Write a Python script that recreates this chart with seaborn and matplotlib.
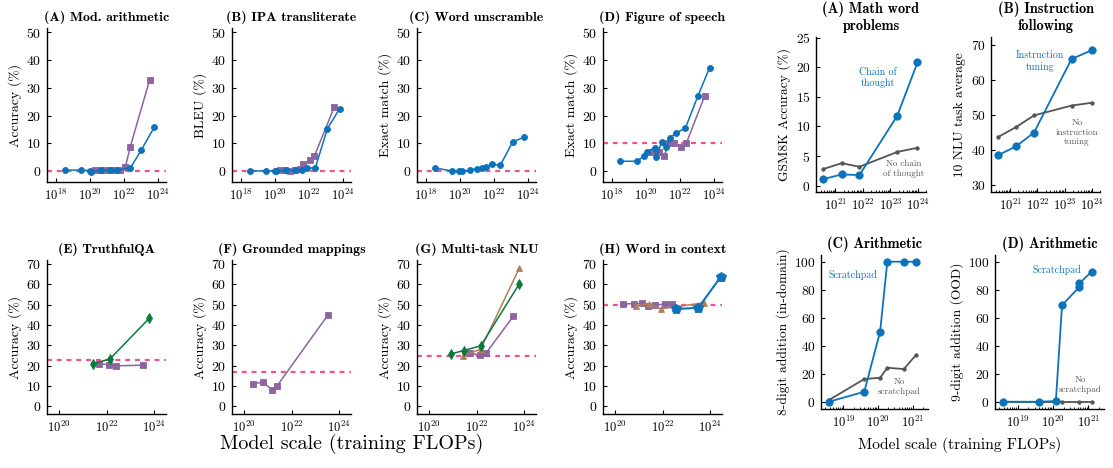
import numpy as np
import pandas as pd
import seaborn as sns
import matplotlib
matplotlib.use("Agg")
import matplotlib.pyplot as plt
from matplotlib.ticker import NullLocator, LogLocator

# ---- data (training FLOPs, score) ----
# (A) Mod. arithmetic
a_gpt3_x = [3.5e18, 3.2e19, 1.0e20, 1.3e20, 5.0e20, 1.6e21, 4.0e21, 2.5e22, 1.1e23, 6.3e23]
a_gpt3_y = [0.3, 0.3, 0.1, -0.3, 0.2, 0.3, 0.5, 1.0, 7.5, 15.7]
a_lamda_x = [2.0e20, 4.0e20, 8.0e20, 1.6e21, 3.2e21, 6.3e21, 1.3e22, 2.5e22, 3.5e23]
a_lamda_y = [0.3, 0.3, 0.3, 0.4, 0.4, 0.5, 1.5, 8.7, 33.0]

# (B) IPA transliterate
b_gpt3_x = [3.5e18, 3.2e19, 1.0e20, 1.3e20, 5.0e20, 1.6e21, 4.0e21, 8.0e21, 2.5e22, 1.3e23, 6.8e23]
b_gpt3_y = [0.0, 0.0, 0.0, 0.0, 0.2, 0.3, 0.5, 1.0, 1.1, 15.3, 22.5]
b_lamda_x = [2.0e20, 4.0e20, 8.0e20, 1.6e21, 3.2e21, 5.0e21, 1.26e22, 2.2e22, 3.2e23]
b_lamda_y = [0.3, 0.3, 0.0, 0.2, 0.8, 2.4, 4.1, 5.3, 22.9]

# (C) Word unscramble
c_gpt3_x = [3.5e18, 3.4e19, 9.5e19, 1.5e20, 4.0e20, 1.0e21, 2.0e21, 3.7e21, 8.0e21, 2.5e22, 1.35e23, 6.3e23]
c_gpt3_y = [1.1, 0.0, 0.0, -0.1, 0.3, 0.8, 1.2, 1.5, 2.4, 2.0, 10.5, 12.2]

# (D) Figure of speech
d_gpt3_x = [3.0e18, 3.2e19, 8.3e19, 1.26e20, 3.6e20, 4.2e20, 9.0e20, 1.6e21, 2.8e21, 6.3e21, 2.2e22, 1.2e23, 5.9e23]
d_gpt3_y = [3.5, 3.5, 5.4, 7.0, 8.4, 5.1, 10.4, 8.5, 12.0, 13.7, 15.4, 27.0, 37.3]
d_lamda_x = [2.3e20, 6.3e20, 1.26e21, 2.2e21, 5.0e21, 1.26e22, 2.5e22, 3.0e23]
d_lamda_y = [6.9, 6.9, 5.3, 10.0, 10.0, 8.8, 10.0, 27.0]

# (E) TruthfulQA
e_gopher_x = [2.7e21, 1.4e22, 6.2e23]
e_gopher_y = [21.0, 23.4, 43.3]
e_lamda_x = [5.0e21, 1.26e22, 2.6e22, 3.5e23]
e_lamda_y = [21.0, 20.5, 20.0, 20.3]

# (F) Grounded mappings
f_lamda_x = [2.3e20, 6.3e20, 1.5e21, 2.5e21, 3.5e23]
f_lamda_y = [11.1, 12.0, 8.2, 10.2, 45.2]

# (G) Multi-task NLU
g_lamda_x = [5.5e21, 1.35e22, 2.5e22, 3.5e23]
g_lamda_y = [26.2, 25.3, 26.2, 44.3]
g_chin_x = [2.7e21, 1.5e22, 6.3e23]
g_chin_y = [24.9, 28.2, 68.0]
g_gopher_x = [8.7e20, 2.9e21, 1.5e22, 6.3e23]
g_gopher_y = [25.9, 27.5, 29.8, 60.3]

# (H) Word in context
h_lamda_x = [2.2e20, 6.6e20, 1.35e21, 2.5e21, 4.7e21, 1.26e22, 2.4e22]
h_lamda_y = [50.5, 50.5, 50.7, 49.5, 49.7, 50.5, 50.3]
h_chin_x = [8.0e20, 2.6e21, 8.7e21, 5.8e23]
h_chin_y = [49.5, 50.5, 48.0, 51.0]
h_palm_x = [3.8e22, 3.2e23, 2.75e24]
h_palm_y = [47.9, 48.5, 63.6]

# right block
ra_x = [3.6e20, 1.7e21, 7.6e21, 1.8e23, 9.8e23]
ra_cot = [1.1, 1.9, 1.8, 11.8, 20.8]
ra_nocot = [2.8, 3.8, 3.2, 5.7, 6.4]
rb_tuned = [38.4, 41.0, 44.9, 65.9, 68.4]
rb_untuned = [43.6, 46.5, 49.8, 52.6, 53.4]
rc_x = [3.8e18, 4.0e19, 1.15e20, 1.86e20, 5.6e20, 1.26e21]
rc_scratch = [0.0, 7.1, 50.0, 100.0, 100.0, 100.0]
rc_noscratch = [1.2, 16.2, 17.1, 24.3, 23.3, 33.4]
rd_x = [3.8e18, 4.0e19, 1.2e20, 1.8e20, 5.6e20, 5.6e20, 1.26e21]
rd_scratch = [0.0, 0.0, 0.5, 69.0, 82.0, 84.5, 93.0]
rd_noscratch_x = [3.8e18, 4.0e19, 1.2e20, 1.8e20, 5.6e20, 1.26e21]
rd_noscratch = [0.0, 0.0, 0.0, 0.0, 0.0, 0.0]

blue = "#0C72BA"
purple = "#8B64A0"
green = "#087A3B"
brown = "#B07F5B"
pink = "#F2508E"
gray = "#555555"

sns.set_style("ticks")
plt.rcParams.update({
    "font.family": ["cmr10"],
    "mathtext.fontset": "cm",
    "axes.formatter.use_mathtext": True,
    "text.color": "black",
    "axes.labelcolor": "black",
    "axes.edgecolor": "black",
    "xtick.color": "black",
    "ytick.color": "black",
    "axes.linewidth": 1.0,
})

W, H = 1113, 468
fig = plt.figure(figsize=(W / 100, H / 100), dpi=100)


def make_ax(left, top, width, height):
    return fig.add_axes([left / W, 1 - (top + height) / H, width / W, height / H])


def series(ax, x, y, color, marker, ms, lw=1.1):
    sns.lineplot(x=x, y=y, ax=ax, color=color, marker=marker, markersize=ms,
                 markeredgecolor=color, markeredgewidth=0.6, linewidth=lw,
                 estimator=None, sort=False, clip_on=False)


def style(ax, title, ylabel, xlim, ylim, xticks, yticks, minor=False, fs=10, xfs=9, tfs=10):
    ax.set_xscale("log")
    ax.set_xlim(*xlim)
    ax.set_ylim(*ylim)
    ax.set_xticks(xticks)
    ax.set_yticks(yticks)
    if minor:
        ax.xaxis.set_minor_locator(LogLocator(base=10, subs="auto", numticks=20))
    else:
        ax.xaxis.set_minor_locator(NullLocator())
    ax.tick_params(direction="in", length=3, width=0.8, pad=4)
    ax.tick_params(axis="y", labelsize=fs)
    ax.tick_params(axis="x", labelsize=xfs)
    ax.tick_params(which="minor", direction="in", length=1.8, width=0.6)
    ax.set_title(title, fontfamily="cmb10", fontsize=tfs, pad=5)
    ax.set_ylabel(ylabel, fontsize=fs, labelpad=3)
    ax.set_xlabel("")
    sns.despine(ax=ax)


def baseline(ax, value):
    ax.axhline(value, color=pink, lw=1.6, dashes=(2.2, 2.2), zorder=1.5)


top_xlim = (3.16e17, 3.16e24)
top_xt = [1e18, 1e20, 1e22, 1e24]
bot_xlim = (3.16e19, 3.16e24)
bot_xt = [1e20, 1e22, 1e24]
lefts = [47, 232, 417, 603]

# top row
ax = make_ax(lefts[0], 28, 119, 154)
baseline(ax, 0)
series(ax, a_lamda_x, a_lamda_y, purple, "s", 3.8)
series(ax, a_gpt3_x, a_gpt3_y, blue, "o", 4.3)
style(ax, "(A) Mod. arithmetic", "Accuracy (%)", top_xlim, (-4, 51.6), top_xt, [0, 10, 20, 30, 40, 50])

ax = make_ax(lefts[1], 28, 119, 154)
baseline(ax, 0)
series(ax, b_lamda_x, b_lamda_y, purple, "s", 3.8)
series(ax, b_gpt3_x, b_gpt3_y, blue, "o", 4.3)
style(ax, "(B) IPA transliterate", "BLEU (%)", top_xlim, (-4, 51.6), top_xt, [0, 10, 20, 30, 40, 50])

ax = make_ax(lefts[2], 28, 119, 154)
baseline(ax, 0)
series(ax, c_gpt3_x, c_gpt3_y, blue, "o", 4.3)
style(ax, "(C) Word unscramble", "Exact match (%)", top_xlim, (-4, 51.6), top_xt, [0, 10, 20, 30, 40, 50])

ax = make_ax(lefts[3], 28, 119, 154)
baseline(ax, 10)
series(ax, d_lamda_x, d_lamda_y, purple, "s", 3.8)
series(ax, d_gpt3_x, d_gpt3_y, blue, "o", 4.3)
style(ax, "(D) Figure of speech", "Exact match (%)", top_xlim, (-4, 51.6), top_xt, [0, 10, 20, 30, 40, 50])

# bottom row
yt70 = [0, 10, 20, 30, 40, 50, 60, 70]
ax = make_ax(lefts[0], 260, 119, 154)
baseline(ax, 22.6)
series(ax, e_lamda_x, e_lamda_y, purple, "s", 3.8)
series(ax, e_gopher_x, e_gopher_y, green, "d", 5.5)
style(ax, "(E) TruthfulQA", "Accuracy (%)", bot_xlim, (-3.7, 72), bot_xt, yt70)

ax = make_ax(lefts[1], 260, 119, 154)
baseline(ax, 16.7)
series(ax, f_lamda_x, f_lamda_y, purple, "s", 3.8)
style(ax, "(F) Grounded mappings", "Accuracy (%)", bot_xlim, (-3.7, 72), bot_xt, yt70)

ax = make_ax(lefts[2], 260, 119, 154)
baseline(ax, 25)
series(ax, g_lamda_x, g_lamda_y, purple, "s", 3.8)
series(ax, g_chin_x, g_chin_y, brown, "^", 5)
series(ax, g_gopher_x, g_gopher_y, green, "d", 5.5)
style(ax, "(G) Multi-task NLU", "Accuracy (%)", bot_xlim, (-3.7, 72), bot_xt, yt70)

ax = make_ax(lefts[3], 260, 119, 154)
baseline(ax, 50)
series(ax, h_lamda_x, h_lamda_y, purple, "s", 3.8)
series(ax, h_chin_x, h_chin_y, brown, "^", 4)
series(ax, h_palm_x, h_palm_y, blue, "p", 7, lw=1.5)
style(ax, "(H) Word in context", "Accuracy (%)", bot_xlim, (-3.7, 72), bot_xt, yt70)

fig.text(352 / W, 1 - 444 / H, "Model scale (training FLOPs)", ha="center", va="center", fontsize=14.5)

# right block
r_xlim = (2.0e20, 2.0e24)
r_xt = [1e21, 1e22, 1e23, 1e24]
ax = make_ax(816, 37, 110, 155)
series(ax, ra_x, ra_nocot, gray, "o", 2.5, lw=1.3)
series(ax, ra_x, ra_cot, blue, "o", 5.3, lw=1.3)
style(ax, "(A) Math word\nproblems", "GSM8K Accuracy (%)", r_xlim, (-1.06, 25.1), r_xt,
      [0, 5, 10, 15, 20, 25], minor=True, fs=9.7, xfs=9, tfs=10.3)
ax.text(0.56, 0.74, "Chain of\nthought", transform=ax.transAxes, color=blue, fontsize=7.2, ha="center", va="center")
ax.text(0.8, 0.148, "No chain\nof thought", transform=ax.transAxes, color=gray, fontsize=6.5, ha="center", va="center")

ax = make_ax(991, 37, 109, 155)
series(ax, ra_x, rb_untuned, gray, "o", 2.5, lw=1.3)
series(ax, ra_x, rb_tuned, blue, "o", 5.3, lw=1.3)
style(ax, "(B) Instruction\nfollowing", "10 NLU task average", r_xlim, (27.9, 72.2), r_xt,
      [30, 40, 50, 60, 70], minor=True, fs=9.7, xfs=9, tfs=10.3)
ax.text(0.45, 0.843, "Instruction\ntuning", transform=ax.transAxes, color=blue, fontsize=7.2, ha="center", va="center")
ax.text(0.79, 0.385, "No\ninstruction\ntuning", transform=ax.transAxes, color=gray, fontsize=6.5, ha="center", va="center")

r2_xlim = (2.24e18, 2.8e21)
r2_xt = [1e19, 1e20, 1e21]
yt100 = [0, 20, 40, 60, 80, 100]
ax = make_ax(821, 255, 107, 154)
series(ax, rc_x, rc_noscratch, gray, "o", 2.5, lw=1.3)
series(ax, rc_x, rc_scratch, blue, "o", 5.3, lw=1.3)
style(ax, "(C) Arithmetic", "8-digit addition (in-domain)", r2_xlim, (-5.2, 104.8), r2_xt,
      yt100, minor=True, fs=9.7, xfs=9, tfs=10.3)
ax.text(0.3, 0.87, "Scratchpad", transform=ax.transAxes, color=blue, fontsize=7.2, ha="center", va="center")
ax.text(0.73, 0.143, "No\nscratchpad", transform=ax.transAxes, color=gray, fontsize=6.5, ha="center", va="center")

ax = make_ax(995, 255, 109, 154)
series(ax, rd_noscratch_x, rd_noscratch, gray, "o", 2.5, lw=1.3)
series(ax, rd_x, rd_scratch, blue, "o", 5.3, lw=1.3)
style(ax, "(D) Arithmetic", "9-digit addition (OOD)", r2_xlim, (-5.2, 104.8), r2_xt,
      yt100, minor=True, fs=9.7, xfs=9, tfs=10.3)
ax.text(0.57, 0.9, "Scratchpad", transform=ax.transAxes, color=blue, fontsize=7.2, ha="center", va="center")
ax.text(0.78, 0.156, "No\nscratchpad", transform=ax.transAxes, color=gray, fontsize=6.5, ha="center", va="center")

fig.text(960 / W, 1 - 445 / H, "Model scale (training FLOPs)", ha="center", va="center", fontsize=11.2)

fig.savefig("out.png", dpi=100)
